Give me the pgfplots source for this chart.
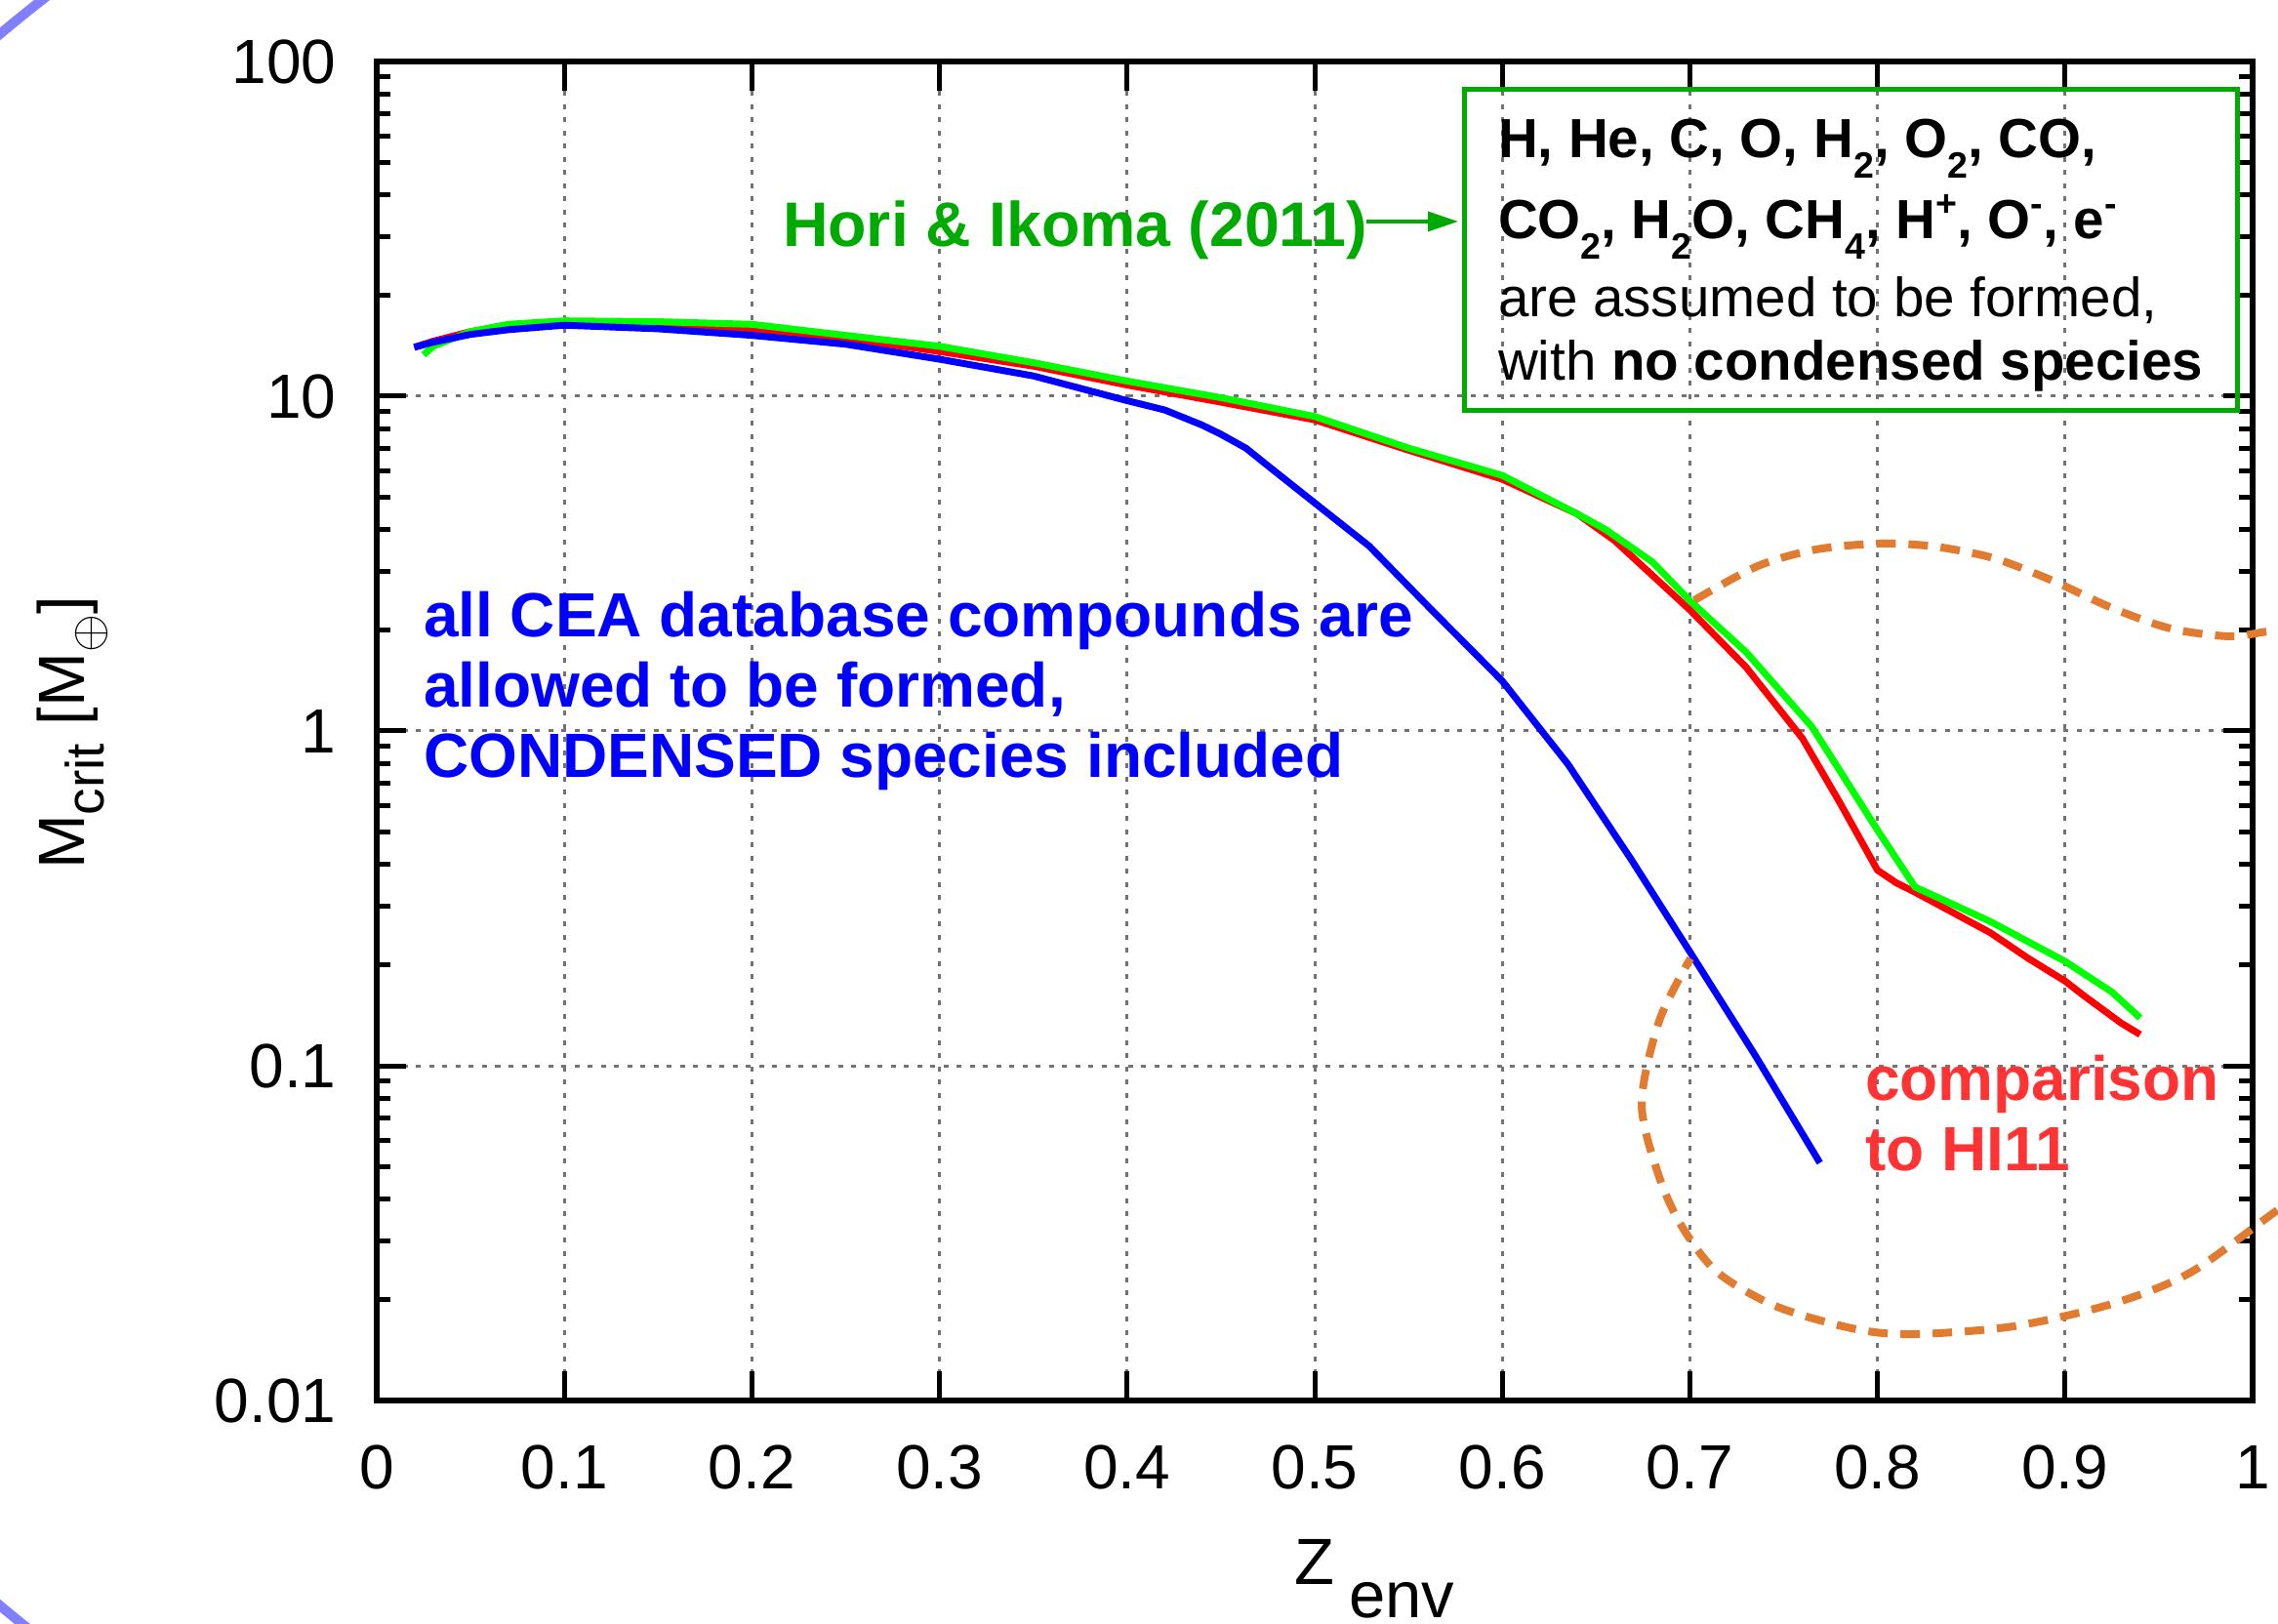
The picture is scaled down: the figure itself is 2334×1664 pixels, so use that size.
\documentclass[border=0pt]{standalone}
\usepackage{pgfplots}
\pgfplotsset{compat=1.18}
\usepackage{fontspec}
\setmainfont{Liberation Sans}
\usetikzlibrary{arrows.meta}
\definecolor{cgreen}{RGB}{0,255,0}
\definecolor{dgreen}{RGB}{0,170,0}
\definecolor{cred}{RGB}{255,0,0}
\definecolor{tred}{RGB}{255,51,51}
\definecolor{cblue}{RGB}{0,0,255}
\definecolor{corange}{RGB}{224,123,48}
\definecolor{lblue}{RGB}{128,128,255}
\newcommand\sub[1]{\raisebox{-4.2pt}{\fontsize{7.5}{8}\selectfont #1}}
\newcommand\supr[1]{\raisebox{4.6pt}{\fontsize{7.5}{8}\selectfont #1}}
\begin{document}
\begin{tikzpicture}
\begin{axis}[
  name=ax, at={(0,0)}, anchor=south west,
  scale only axis, width=384.4pt, height=274.4pt,
  xmin=0, xmax=1, ymode=log, ymin=0.01, ymax=100,
  xtick={0,0.1,0.2,0.3,0.4,0.5,0.6,0.7,0.8,0.9,1},
  xticklabels={0,0.1,0.2,0.3,0.4,0.5,0.6,0.7,0.8,0.9,1},
  ytick={0.01,0.1,1,10,100},
  yticklabels={0.01,0.1,1,10,100},
  /pgf/number format/assume math mode=true,
  tick align=inside, major tick length=6pt, minor tick length=2.8pt,
  every tick/.append style={black, line width=1pt},
  axis line style={line width=1.3pt},
  grid=major,
  major grid style={black!55, line width=0.6pt, dash pattern=on 1pt off 1.7pt},
  tick label style={font=\fontsize{12.8}{15}\selectfont},
  xticklabel style={anchor=north, inner sep=0pt, yshift=-9pt},
  yticklabel style={anchor=east, inner sep=0pt, xshift=-8.1pt},
  xlabel={Z\rlap{\hspace{3pt}\raisebox{-6.8pt}{env}}},
  xlabel style={at={(axis description cs:0.5,0)}, anchor=base, yshift=-37.6pt, font=\fontsize{13.4}{16}\selectfont},
  ylabel={M\raisebox{-4pt}{\fontsize{11}{12}\selectfont crit} [M\raisebox{-4pt}{\fontsize{10}{12}\selectfont$\oplus$}]},
  ylabel style={at={(axis description cs:-0.1556,0.4985)}, anchor=base, font=\fontsize{13.4}{16}\selectfont},
]
\addplot[cred, line width=1.4pt] coordinates {
(0.02,14.0) (0.03,14.6) (0.05,15.6) (0.07,16.2) (0.10,16.6) (0.15,16.4) (0.20,15.9)
(0.25,14.9) (0.30,13.6) (0.35,12.3) (0.40,10.8) (0.45,9.6) (0.50,8.5) (0.55,6.9)
(0.60,5.65) (0.64,4.45) (0.66,3.7) (0.70,2.3) (0.73,1.55) (0.76,0.95) (0.78,0.61)
(0.80,0.384) (0.81,0.352) (0.82,0.33) (0.86,0.25) (0.88,0.21) (0.90,0.179)
(0.91,0.162) (0.93,0.134) (0.94,0.124)};
\addplot[cgreen, line width=1.4pt] coordinates {
(0.025,13.3) (0.03,14.1) (0.05,15.6) (0.07,16.4) (0.10,16.8) (0.15,16.7) (0.20,16.4)
(0.25,15.2) (0.30,14.1) (0.35,12.6) (0.40,11.1) (0.45,9.9) (0.50,8.7) (0.55,7.0)
(0.60,5.8) (0.64,4.45) (0.655,4.0) (0.68,3.2) (0.70,2.45) (0.73,1.72) (0.765,1.03)
(0.78,0.76) (0.80,0.506) (0.82,0.342) (0.86,0.27) (0.90,0.205) (0.925,0.166) (0.94,0.139)};
\addplot[cblue, line width=1.4pt] coordinates {
(0.02,14.0) (0.03,14.5) (0.05,15.3) (0.07,15.8) (0.10,16.3) (0.15,15.9) (0.20,15.2)
(0.25,14.3) (0.30,12.9) (0.35,11.5) (0.40,9.7) (0.42,9.1) (0.44,8.2) (0.45,7.7)
(0.4633,7.0) (0.4766,6.1) (0.50,4.8) (0.529,3.57) (0.561,2.34) (0.60,1.41)
(0.635,0.796) (0.669,0.411) (0.70,0.219) (0.735,0.107) (0.7693,0.0513)};
\end{axis}
\begin{scope}[x=0.2pt, y=-0.2pt, shift={(-77.2pt,287pt)}]
\draw[lblue, line width=2pt] (1467,840) ellipse [x radius=1886, y radius=1281];
\draw[corange, line width=1.6pt, dash pattern=on 4pt off 2.6pt] plot[smooth, tension=0.5] coordinates {
(1736,615) (1801,580) (1861,563) (1926,557) (1982,560) (2043,572) (2103,595) (2164,623)
(2224,644) (2285,652) (2332,646) (2420,640) (2480,900) (2420,1180) (2332,1241)
(2244,1304) (2164,1336) (2063,1359) (1962,1367) (1902,1362) (1821,1339) (1760,1304)
(1724,1258) (1700,1206) (1682,1131) (1700,1046) (1732,982)};
\begin{scope}[every node/.style={anchor=base west, inner sep=0pt}]
\node[font=\bfseries\fontsize{12.8}{15}\selectfont, text=cblue] at (433,653) {all CEA database compounds are};
\node[font=\bfseries\fontsize{12.8}{15}\selectfont, text=cblue] at (433,725) {allowed to be formed,};
\node[font=\bfseries\fontsize{12.8}{15}\selectfont, text=cblue] at (433,797) {CONDENSED species included};
\node[font=\bfseries\fontsize{12.8}{15}\selectfont, text=tred] at (1910,1128) {comparison};
\node[font=\bfseries\fontsize{12.8}{15}\selectfont, text=tred] at (1910,1200) {to HI11};
\node[font=\bfseries\fontsize{12.9}{15}\selectfont, text=dgreen] at (801,253) {Hori \& Ikoma (2011)};
\node[font=\fontsize{11.3}{13}\selectfont] at (1534,162) {\textbf{H, He, C, O, H\sub{2}, O\sub{2}, CO,}};
\node[font=\fontsize{11.3}{13}\selectfont] at (1534,245) {\textbf{CO\sub{2}, H\sub{2}O, CH\sub{4}, H\supr{+}, O\supr{-}, e\supr{-}}};
\node[font=\fontsize{11.3}{13}\selectfont] at (1534,325) {are assumed to be formed,};
\node[font=\fontsize{11.3}{13}\selectfont] at (1534,390) {with \textbf{no condensed species}};
\end{scope}
\draw[dgreen, line width=0.7pt, -{Triangle[length=6.2pt,width=4pt]}] (1400,227) -- (1494,227);
\draw[dgreen, line width=1pt] (1500,92) rectangle (2292,421);
\pgfresetboundingbox
\path[use as bounding box] (0,0) rectangle (2334,1664);
\end{scope}
\end{tikzpicture}
\end{document}
